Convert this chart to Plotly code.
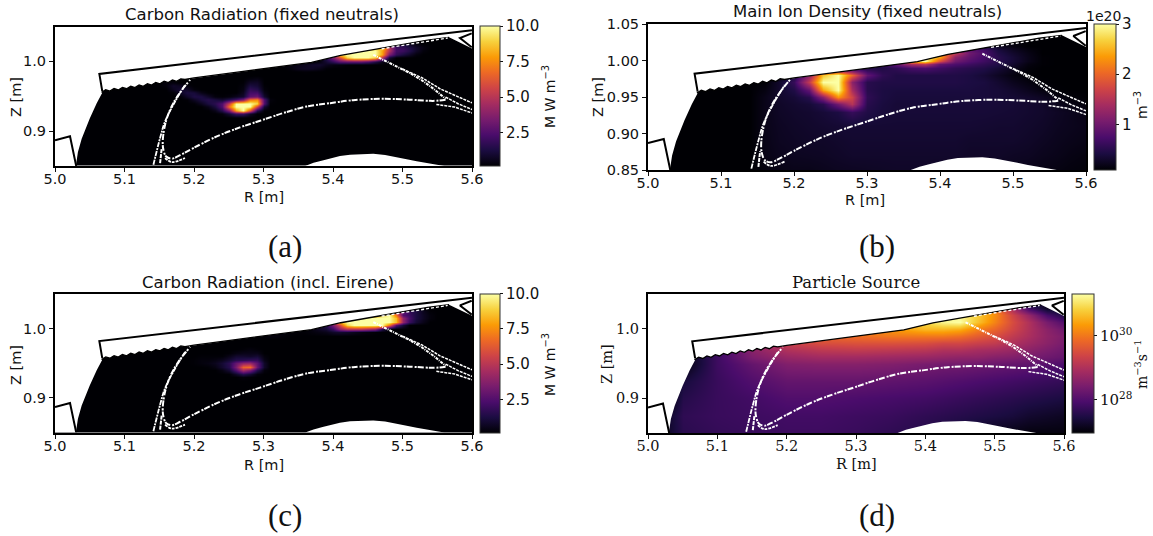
import plotly.graph_objects as go

W, H = 1153, 536

# ---- machine geometry (R, Z in metres) ----
SERR_R = [5.067, 5.073, 5.079, 5.085, 5.091, 5.097, 5.103, 5.109, 5.115, 5.121, 5.127, 5.133, 5.139, 5.145, 5.151, 5.157, 5.163, 5.169, 5.175, 5.181, 5.187]
SERR_Z = [0.9555, 0.9592, 0.9573, 0.961, 0.959, 0.9627, 0.9608, 0.9645, 0.9625, 0.9662, 0.9643, 0.968, 0.966, 0.9697, 0.9678, 0.9715, 0.9695, 0.9732, 0.9713, 0.975, 0.974]
UPPER_EDGE_R = [5.2, 5.2625, 5.3, 5.369, 5.411, 5.454, 5.48, 5.536, 5.567]
UPPER_EDGE_Z = [0.9762, 0.9845, 0.9894, 0.9985, 1.0085, 1.016, 1.0205, 1.0305, 1.0345]
LEFT_CURVE_R = [5.068, 5.06, 5.05, 5.0384, 5.033, 5.03]
LEFT_CURVE_Z = [0.955, 0.94, 0.918, 0.889, 0.87, 0.85]
ARC_R = [5.36, 5.372, 5.385, 5.3957, 5.41, 5.4245, 5.44, 5.458, 5.475, 5.4916, 5.506, 5.5204, 5.544, 5.56]
ARC_Z = [0.85, 0.8545, 0.858, 0.8608, 0.8642, 0.8663, 0.8672, 0.8674, 0.8658, 0.863, 0.8598, 0.8567, 0.8525, 0.85]
WALL_R = [5.6, 5.0638, 5.068]
WALL_Z = [1.0445, 0.982, 0.9574]
LEFT_R = [5.0, 5.0216, 5.0305]
LEFT_Z = [0.8868, 0.8925, 0.85]
CHEV_R = [5.5996, 5.5827, 5.5996]
CHEV_Z = [1.0402, 1.0335, 1.0202]

# ---- separatrix traces ----
CORE_R = [5.562, 5.548, 5.54, 5.506, 5.468, 5.429, 5.396, 5.362, 5.328, 5.295, 5.266, 5.2328, 5.199, 5.18, 5.168, 5.16, 5.156, 5.155, 5.1584, 5.1656, 5.1776, 5.1944]
CORE_Z = [0.945, 0.9435, 0.9434, 0.9453, 0.9463, 0.9444, 0.9401, 0.9353, 0.9258, 0.9148, 0.9053, 0.8924, 0.8757, 0.8655, 0.8605, 0.8635, 0.873, 0.8853, 0.9091, 0.9306, 0.952, 0.9735]
OUTER_R = [5.1416, 5.1512, 5.1584, 5.1728, 5.1872]
OUTER_Z = [0.8519, 0.89, 0.914, 0.9425, 0.9663]
INNER_R = [5.1512, 5.1536]
INNER_Z = [0.8542, 0.8757]
WRAP_R = [5.1584, 5.168, 5.187]
WRAP_Z = [0.8614, 0.8556, 0.8614]
LEG1_R = [5.458, 5.477, 5.4916, 5.511, 5.528, 5.545, 5.562]
LEG1_Z = [1.0093, 1.0, 0.9926, 0.983, 0.9728, 0.9605, 0.9463]
LEG2_R = [5.5, 5.528, 5.554, 5.58, 5.6]
LEG2_Z = [0.989, 0.9765, 0.9607, 0.9488, 0.9405]
LEG3_R = [5.562, 5.58, 5.6]
LEG3_Z = [0.9488, 0.9393, 0.931]
LEG4_R = [5.5487, 5.575, 5.6]
LEG4_Z = [0.9383, 0.9345, 0.926]
TOPD_R = [5.47, 5.565]
TOPD_Z = [1.018, 1.0335]

# ---- panel (a) and (c): fine grid, background plus hot regions ----
FINE_R = [round(5.0 + 0.01 * i, 2) for i in range(61)]
FINE_Z = [round(0.85 + 0.005 * i, 3) for i in range(41)]
RAD_FLOOR = 0.15

# each row: Z -> (first R, values at 0.01 m spacing)
A_LOWER = {
    0.975: (5.28, [0.3, 0.4]),
    0.97: (5.16, [0.3, 0.3, 0.1, 0, 0, 0, 0, 0, 0, 0, 0, 0.2, 0.8, 0.8, 0.1]),
    0.965: (5.16, [0.3, 0.8, 0.6, 0.3, 0, 0, 0, 0, 0, 0, 0, 0.3, 1.2, 1.0, 0.2]),
    0.96: (5.16, [0.1, 0.6, 1.0, 0.8, 0.3, 0, 0, 0, 0, 0, 0, 0.4, 1.8, 1.5, 0.3]),
    0.955: (5.17, [0.2, 0.7, 1.2, 1.1, 0.5, 0.2, 0, 0, 0, 0, 0.6, 2.2, 2.2, 0.5]),
    0.95: (5.18, [0.2, 0.8, 1.3, 1.3, 0.8, 0.3, 0.2, 0.3, 0.6, 0.9, 2.8, 3.2, 0.9]),
    0.945: (5.19, [0.2, 0.7, 1.2, 1.5, 1.2, 0.9, 1.5, 2.2, 3.5, 7.0, 7.5, 2.5, 0.3]),
    0.94: (5.2, [0.2, 0.6, 1.2, 1.6, 2.5, 5.5, 10.0, 10.0, 10.0, 9.0, 2.5, 0.2]),
    0.935: (5.21, [0.1, 0.5, 1.2, 2.5, 7.0, 10.0, 10.0, 10.0, 5.5, 1.0]),
    0.93: (5.22, [0.1, 0.5, 1.5, 3.5, 8.0, 10.0, 6.0, 1.5, 0.2]),
    0.925: (5.23, [0.1, 0.3, 1.0, 2.0, 2.0, 0.8, 0.1]),
    0.92: (5.26, [0.2, 0.2]),
}
A_UPPER = {
    1.025: (5.48, [1.5, 1.5, 1.2, 0.6, 0.3]),
    1.02: (5.44, [3.0, 5.0, 8.0, 9.0, 5.0, 2.0, 1.8, 1.3, 0.8, 0.4, 0.2]),
    1.015: (5.42, [7.0, 10.0, 10.0, 10.0, 10.0, 8.0, 5.0, 2.2, 2.0, 1.5, 0.8, 0.3]),
    1.01: (5.4, [4.0, 9.0, 10.0, 10.0, 10.0, 10.0, 10.0, 8.0, 3.5, 1.8, 1.2, 0.8, 0.3]),
    1.005: (5.39, [1.5, 3.5, 6.0, 9.0, 10.0, 10.0, 10.0, 9.0, 5.0, 1.0]),
    1.0: (5.38, [0.3, 1.0, 1.8, 2.8, 3.0, 3.0, 3.0, 2.5, 1.5, 0.5]),
    0.995: (5.33, [0.3, 0.4, 0.5, 0.6, 0.8, 0.9, 0.6, 0.4, 0.3, 0.2]),
    0.99: (5.34, [0.3, 0.6, 0.7, 0.7, 0.5, 0.2]),
    0.985: (5.36, [0.2]),
}
C_LOWER = {
    0.97: (5.26, [0.1, 0.2, 0.3, 0.2]),
    0.965: (5.25, [0.2, 0.4, 0.5, 0.5, 0.5, 0.1]),
    0.96: (5.21, [0.2, 0.2, 0.2, 0.2, 0.5, 0.9, 0.9, 0.8, 1.0, 0.3]),
    0.955: (5.2, [0.2, 0.3, 0.3, 0.4, 0.6, 1.0, 1.5, 1.6, 1.8, 1.8, 0.5]),
    0.95: (5.2, [0.2, 0.3, 0.4, 0.6, 1.0, 1.6, 3.0, 4.0, 4.2, 2.8, 0.8]),
    0.945: (5.22, [0.2, 0.4, 0.9, 1.5, 3.5, 6.5, 6.8, 3.0, 0.8]),
    0.94: (5.24, [0.4, 1.0, 2.5, 4.5, 3.5, 1.5, 0.3]),
    0.935: (5.25, [0.2, 0.8, 1.5, 1.0, 0.3]),
    0.93: (5.26, [0.1, 0.3, 0.2]),
}
C_UPPER = {
    1.03: (5.51, [0.3, 0.2]),
    1.025: (5.48, [4.0, 5.0, 3.0, 1.8, 1.2, 0.6, 0.2]),
    1.02: (5.44, [3.0, 5.0, 7.0, 9.0, 10.0, 7.0, 2.5, 2.0, 1.2, 0.7, 0.3]),
    1.015: (5.41, [4.0, 9.0, 10.0, 10.0, 10.0, 10.0, 10.0, 10.0, 8.5, 4.0, 2.3, 1.2, 0.7, 0.3]),
    1.01: (5.39, [2.5, 5.0, 8.5, 10.0, 10.0, 10.0, 10.0, 10.0, 10.0, 10.0, 8.5, 4.0, 2.0, 1.0, 0.5]),
    1.005: (5.38, [0.8, 1.5, 3.5, 6.0, 9.0, 10.0, 10.0, 10.0, 10.0, 10.0, 7.0, 2.5, 1.0]),
    1.0: (5.37, [0.4, 0.7, 1.0, 2.0, 4.0, 5.0, 5.0, 5.0, 4.5, 4.0, 1.5]),
    0.995: (5.32, [0.2, 0.3, 0.2, 0.2, 0.2, 0.3, 0.4, 0.5, 0.8, 0.9, 0.8, 0.6, 0.4, 0.3, 0.2]),
    0.99: (5.3, [0.2, 0.3, 0.3, 0.2]),
}

# ---- panel (b): main ion density, units of 1e20 m^-3 ----
B_R = [5.0, 5.1, 5.14, 5.16, 5.18, 5.20, 5.22, 5.24, 5.26, 5.28, 5.30, 5.32, 5.34, 5.36, 5.38, 5.40, 5.42, 5.44, 5.46, 5.48, 5.50, 5.52, 5.54, 5.56, 5.58, 5.60]
B_Z = [0.85, 0.87, 0.89, 0.91, 0.93, 0.94, 0.95, 0.96, 0.97, 0.98, 0.99, 0.995, 1.0, 1.005, 1.01, 1.015, 1.02, 1.05]
B_VALUES = [
    [.09, .09, .09, .15, .18, .2, .2, .22, .24, .25, .26, .27, .28, .28, .28, .26, .25, .22, .22, .22, .22, .2, .18, .16, .14, .13],
    [.09, .09, .09, .18, .22, .24, .25, .26, .28, .3, .3, .3, .3, .3, .3, .3, .3, .28, .28, .28, .26, .25, .22, .2, .17, .15],
    [.09, .09, .09, .19, .24, .26, .28, .28, .3, .32, .32, .32, .32, .32, .32, .32, .32, .3, .3, .3, .3, .28, .25, .22, .2, .18],
    [.09, .09, .09, .2, .25, .28, .3, .32, .34, .34, .34, .34, .34, .34, .34, .34, .34, .34, .33, .32, .32, .3, .28, .24, .22, .2],
    [.09, .09, .09, .2, .27, .3, .32, .36, .42, .6, .45, .38, .36, .36, .36, .36, .36, .36, .36, .35, .34, .32, .3, .26, .22, .18],
    [.09, .09, .09, .2, .28, .32, .36, .5, 1.0, 1.5, .5, .4, .36, .36, .37, .37, .37, .37, .37, .36, .35, .32, .3, .22, .16, .13],
    [.09, .09, .09, .2, .3, .36, .5, 1.2, 2.3, 1.7, .55, .42, .38, .38, .38, .38, .38, .38, .38, .36, .34, .3, .25, .16, .12, .1],
    [.09, .09, .09, .16, .3, .45, .9, 2.4, 3.0, 1.4, .5, .42, .4, .4, .4, .4, .4, .4, .38, .36, .3, .22, .15, .1, .09, .09],
    [.09, .09, .09, .1, .3, .6, 1.6, 3.0, 3.0, 1.2, .5, .45, .45, .45, .45, .45, .45, .42, .4, .32, .22, .15, .1, .09, .09, .09],
    [.09, .09, .09, .09, .09, .4, 1.2, 2.6, 3.0, 2.0, .9, .55, .45, .45, .45, .45, .45, .42, .35, .25, .15, .1, .09, .09, .09, .09],
    [.09, .09, .09, .09, .09, .09, .09, .2, .4, .5, .45, .45, .55, .7, .75, .65, .55, .5, .45, .35, .22, .12, .09, .09, .09, .09],
    [.09, .09, .09, .09, .09, .09, .09, .09, .09, .09, .35, .55, .9, 1.4, 1.5, .9, .75, .65, .55, .45, .3, .15, .1, .09, .09, .09],
    [.09, .09, .09, .09, .09, .09, .09, .09, .09, .09, .2, .5, 1.2, 2.6, 3.0, 1.8, 1.0, .8, .65, .5, .35, .2, .1, .09, .09, .09],
    [.09, .09, .09, .09, .09, .09, .09, .09, .09, .09, .09, .3, 1.0, 2.8, 3.0, 2.4, 1.2, .9, .7, .5, .35, .2, .1, .09, .09, .09],
    [.09, .09, .09, .09, .09, .09, .09, .09, .09, .09, .09, .09, .3, 1.2, 2.0, 2.2, 1.6, 1.0, .75, .45, .3, .18, .09, .09, .09, .09],
    [.09, .09, .09, .09, .09, .09, .09, .09, .09, .09, .09, .09, .09, .09, .3, .8, .8, .9, .7, .4, .25, .15, .09, .09, .09, .09],
    [.09, .09, .09, .09, .09, .09, .09, .09, .09, .09, .09, .09, .09, .09, .09, .09, .2, .5, .4, .25, .15, .09, .09, .09, .09, .09],
    [.09] * 26,
]

# ---- panel (d): particle source, log10(m^-3 s^-1) ----
D_R = [5.0, 5.03, 5.05, 5.1, 5.15, 5.2, 5.25, 5.3, 5.35, 5.4, 5.425, 5.45, 5.475, 5.5, 5.525, 5.55, 5.575, 5.6]
D_Z = [0.85, 0.875, 0.9, 0.925, 0.95, 0.96, 0.97, 0.98, 0.99, 1.0, 1.01, 1.02, 1.03, 1.05]
D_VALUES = [
    [27.0, 27.3, 27.6, 27.7, 27.75, 27.8, 27.8, 27.75, 27.65, 27.55, 27.45, 27.35, 27.25, 27.15, 27.1, 27.05, 27.05, 27.05],
    [27.0, 27.3, 27.65, 27.75, 27.8, 27.85, 27.85, 27.8, 27.75, 27.65, 27.6, 27.55, 27.5, 27.45, 27.4, 27.3, 27.25, 27.2],
    [27.0, 27.0, 27.55, 27.75, 27.85, 28.0, 28.0, 27.95, 27.9, 27.85, 27.8, 27.75, 27.7, 27.65, 27.6, 27.55, 27.5, 27.45],
    [27.0, 27.0, 27.4, 27.75, 28.0, 28.2, 28.2, 28.2, 28.15, 28.1, 28.05, 28.0, 27.95, 27.9, 27.85, 27.8, 27.75, 27.7],
    [27.0, 27.0, 27.0, 27.8, 28.2, 28.5, 28.55, 28.55, 28.5, 28.4, 28.35, 28.35, 28.3, 28.25, 28.2, 28.15, 28.05, 27.95],
    [27.0, 27.0, 27.0, 27.8, 28.45, 28.75, 28.85, 28.85, 28.8, 28.75, 28.7, 28.65, 28.65, 28.55, 28.5, 28.4, 28.3, 28.2],
    [27.0, 27.0, 27.0, 27.7, 28.6, 29.0, 29.15, 29.2, 29.15, 29.1, 29.0, 29.0, 28.9, 28.85, 28.75, 28.6, 28.45, 28.3],
    [27.0, 27.0, 27.0, 27.5, 28.5, 29.3, 29.5, 29.55, 29.55, 29.5, 29.4, 29.4, 29.3, 29.2, 29.0, 28.8, 28.6, 28.4],
    [27.0, 27.0, 27.0, 27.0, 28.0, 29.0, 29.8, 29.9, 30.0, 30.0, 30.0, 29.9, 29.7, 29.5, 29.2, 28.95, 28.65, 28.45],
    [27.0, 27.0, 27.0, 27.0, 27.0, 28.0, 29.0, 30.1, 30.3, 30.6, 30.6, 30.5, 30.1, 29.8, 29.4, 29.0, 28.6, 28.3],
    [27.0, 27.0, 27.0, 27.0, 27.0, 28.0, 28.5, 29.5, 30.5, 30.9, 31.2, 31.3, 30.7, 30.1, 29.5, 29.0, 28.4, 28.0],
    [27.0, 27.0, 27.0, 27.0, 27.0, 27.5, 28.0, 29.0, 30.0, 31.0, 31.3, 31.2, 30.8, 30.2, 29.4, 28.7, 27.9, 27.5],
    [27.0, 27.0, 27.0, 27.0, 27.0, 27.0, 27.5, 28.5, 29.5, 30.5, 31.0, 31.0, 30.8, 30.0, 28.9, 27.8, 27.2, 27.2],
    [27.0] * 18,
]

X_TICKS = [5.0, 5.1, 5.2, 5.3, 5.4, 5.5, 5.6]
Y_TICKS_A = [0.9, 1.0]
Y_TICKS_B = [0.85, 0.90, 0.95, 1.00, 1.05]
RAD_TICKS = [2.5, 5.0, 7.5, 10.0]
DENS_TICKS = [1, 2, 3]
SRC_TICKS = [28, 30]
SRC_LABELS = ["10<sup>28</sup>", "10<sup>30</sup>"]

MASK_R = [5.0, 5.6, 5.6] + UPPER_EDGE_R[::-1] + SERR_R[::-1] + LEFT_CURVE_R + [5.0]
MASK_Z = [1.05, 1.05, 1.0185] + UPPER_EDGE_Z[::-1] + SERR_Z[::-1] + LEFT_CURVE_Z + [0.85]
EDGE_R = SERR_R + UPPER_EDGE_R
EDGE_Z = SERR_Z + UPPER_EDGE_Z


def fill(*patches):
    grid = [[RAD_FLOOR] * len(FINE_R) for _ in FINE_Z]
    for patch in patches:
        for z, (r0, vals) in patch.items():
            iz = round((z - 0.85) / 0.005)
            ir = round((r0 - 5.0) / 0.01)
            for k, v in enumerate(vals):
                grid[iz][ir + k] = max(v, RAD_FLOOR)
    return grid


SANS = "DejaVu Sans"
SERIF = "DejaVu Serif"
PANELS = [
    dict(ax=(55, 472, 26.5, 166), cb=(480, 500), x=FINE_R, y=FINE_Z, z=fill(A_LOWER, A_UPPER), zr=(RAD_FLOOR, 10), ct=RAD_TICKS, ctt=["2.5", "5.0", "7.5", "10.0"], yt=Y_TICKS_A, ytf=".1f", font=SANS,
         title="Carbon Radiation (fixed neutrals)", tpos=(262, 14), cl="M W m<sup>−3</sup>", clpos=(549, 97), xl=(264, 197), yl=(16, 97), tag="(a)", tagpos=(285, 247)),
    dict(ax=(648, 1086, 24, 170), cb=(1094, 1116), x=B_R, y=B_Z, z=B_VALUES, zr=(0.09, 3), ct=DENS_TICKS, ctt=["1", "2", "3"], yt=Y_TICKS_B, ytf=".2f", font=SANS,
         title="Main Ion Density (fixed neutrals)", tpos=(867, 12), cl="m<sup>−3</sup>", clpos=(1141, 105), xl=(865, 200), yl=(598, 97), tag="(b)", tagpos=(877, 247)),
    dict(ax=(55, 472, 294, 432.5), cb=(480, 500), x=FINE_R, y=FINE_Z, z=fill(C_LOWER, C_UPPER), zr=(RAD_FLOOR, 10), ct=RAD_TICKS, ctt=["2.5", "5.0", "7.5", "10.0"], yt=Y_TICKS_A, ytf=".1f", font=SANS,
         title="Carbon Radiation (incl. Eirene)", tpos=(268, 282), cl="M W m<sup>−3</sup>", clpos=(549, 365), xl=(264, 465), yl=(16, 365), tag="(c)", tagpos=(285, 515)),
    dict(ax=(648, 1064, 294, 433), cb=(1072, 1094), x=D_R, y=D_Z, z=D_VALUES, zr=(26.97, 31.3), ct=SRC_TICKS, ctt=SRC_LABELS, yt=Y_TICKS_A, ytf=".1f", font=SERIF,
         title="Particle Source", tpos=(856, 282), cl="m<sup>−3</sup>s<sup>−1</sup>", clpos=(1141, 365), xl=(856, 464), yl=(607, 364), tag="(d)", tagpos=(877, 515)),
]

fig = go.Figure()
annotations = []


def px_note(text, x, y, size, family, angle=0):
    annotations.append(dict(text=text, x=x / W, y=1 - y / H, xref="paper", yref="paper", showarrow=False,
                            xanchor="center", yanchor="middle", textangle=angle,
                            font=dict(family=family, size=size, color="#111")))


for i, p in enumerate(PANELS, start=1):
    x0, x1, y0, y1 = p["ax"]
    xa, ya = f"xaxis{i}", f"yaxis{i}"
    xr, yr = f"x{i}", f"y{i}"
    fig.add_trace(go.Heatmap(
        x=p["x"], y=p["y"], z=p["z"], colorscale="Inferno", zmin=p["zr"][0], zmax=p["zr"][1], zsmooth="best",
        xaxis=xr, yaxis=yr, hoverinfo="skip",
        colorbar=dict(x=p["cb"][0] / W, xanchor="left", y=1 - y1 / H, yanchor="bottom", len=(y1 - y0) / H, lenmode="fraction",
                      thickness=p["cb"][1] - p["cb"][0], thicknessmode="pixels", xpad=0, ypad=0,
                      outlinewidth=1, outlinecolor="#333", ticks="outside", ticklen=3, tickwidth=1, tickcolor="#111",
                      tickvals=p["ct"], ticktext=p["ctt"], tickfont=dict(family=p["font"], size=15, color="#111")),
    ))
    for rr, zz in [(MASK_R, MASK_Z), (ARC_R, ARC_Z)]:
        fig.add_trace(go.Scatter(x=rr, y=zz, mode="lines", fill="toself", fillcolor="white", line=dict(width=0, color="white"),
                                 xaxis=xr, yaxis=yr, hoverinfo="skip", showlegend=False))
    for rr, zz, w in [(WALL_R, WALL_Z, 2), (EDGE_R, EDGE_Z, 1.3), (LEFT_R, LEFT_Z, 2), (CHEV_R, CHEV_Z, 2)]:
        fig.add_trace(go.Scatter(x=rr, y=zz, mode="lines", line=dict(width=w, color="black"),
                                 xaxis=xr, yaxis=yr, hoverinfo="skip", showlegend=False))
    for rr, zz, w, dash, shape in [(CORE_R, CORE_Z, 2, "6px,1px,2px,2px", "spline"), (OUTER_R, OUTER_Z, 1.8, "5px,1px,2px,1px", "spline"),
                                   (INNER_R, INNER_Z, 2, "4px,1px", "linear"), (WRAP_R, WRAP_Z, 1.8, "3px,1px", "spline"),
                                   (LEG1_R, LEG1_Z, 2, "3px,1px,1px,1px", "linear"),
                                   (LEG2_R, LEG2_Z, 1.5, "3px,1px", "linear"), (LEG3_R, LEG3_Z, 1.5, "3px,1px", "linear"),
                                   (LEG4_R, LEG4_Z, 1.5, "3px,1px", "linear"), (TOPD_R, TOPD_Z, 1.3, "3px,2px", "linear")]:
        fig.add_trace(go.Scatter(x=rr, y=zz, mode="lines", line=dict(width=w, color="white", dash=dash, shape=shape),
                                 xaxis=xr, yaxis=yr, hoverinfo="skip", showlegend=False))
    tick_font = dict(family=p["font"], size=14.5, color="#111")
    fig.update_layout(**{
        xa: dict(domain=[x0 / W, x1 / W], range=[5.0, 5.6], anchor=yr, tickvals=X_TICKS, tickformat=".1f", ticks="outside",
                 ticklen=4, tickwidth=1, tickcolor="#111", showline=True, linecolor="black", linewidth=2, mirror=True,
                 showgrid=False, zeroline=False, tickfont=tick_font, ticklabelstandoff=-5),
        ya: dict(domain=[1 - y1 / H, 1 - y0 / H], range=[0.85, 1.05], anchor=xr, tickvals=p["yt"], tickformat=p["ytf"], ticks="outside",
                 ticklen=4, tickwidth=1, tickcolor="#111", showline=True, linecolor="black", linewidth=2, mirror=True,
                 showgrid=False, zeroline=False, tickfont=tick_font),
    })
    px_note(p["title"], p["tpos"][0], p["tpos"][1], 16.5, p["font"])
    px_note(p["cl"], p["clpos"][0], p["clpos"][1], 14, p["font"], -90)
    px_note("R [m]", p["xl"][0], p["xl"][1], 14.5, p["font"])
    px_note("Z [m]", p["yl"][0], p["yl"][1], 14.5, p["font"], -90)
    px_note(p["tag"], p["tagpos"][0], p["tagpos"][1], 31, "Liberation Serif")

px_note("1e20", 1103, 16, 14, SANS)

fig.update_layout(width=W, height=H, autosize=False, margin=dict(l=0, r=0, t=0, b=0, autoexpand=False), paper_bgcolor="white",
                  plot_bgcolor="white", showlegend=False, annotations=annotations)

fig.write_html("out.html", config={"displayModeBar": False}, post_script="document.body.style.margin='0';")
